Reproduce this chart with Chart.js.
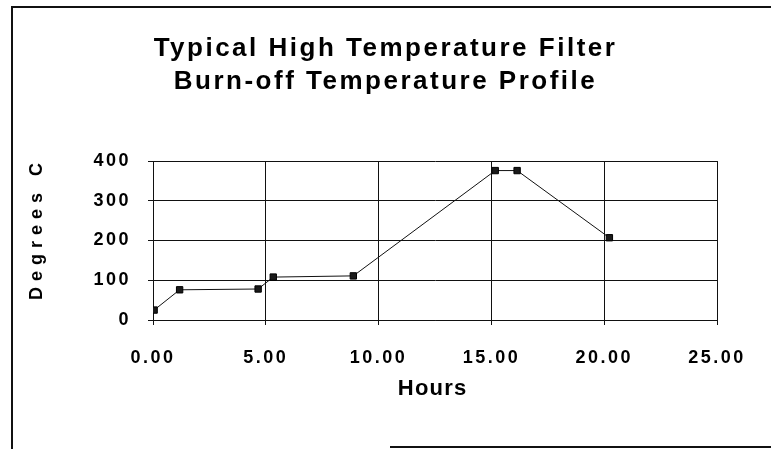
<!DOCTYPE html>
<html>
<head>
<meta charset="utf-8">
<script src="https://cdn.jsdelivr.net/npm/chart.js@4.4.1/dist/chart.umd.min.js"></script>
<style>
  html, body { margin: 0; padding: 0; background: #fff; }
  #wrap { width: 771px; height: 449px; }
</style>
</head>
<body>
<div id="wrap"><canvas id="chart"></canvas></div>
<script>
// Data
const hours = [0.05, 1.18, 4.66, 5.33, 8.88, 15.17, 16.14, 20.23];
const degrees = [25, 76, 78, 108, 111, 376, 376, 207];
const titleLines = ['Typical High Temperature Filter', 'Burn-off Temperature Profile'];
const xTicks = [0, 5, 10, 15, 20, 25];
const yTicks = [0, 100, 200, 300, 400];
const xTitle = 'Hours';
const yTitle = 'Degrees C';

const FONT = '"Liberation Sans", Arial, sans-serif';

// spaced out lettering like the scanned original
const spacing = {
    id: 'spacing',
    beforeLayout(chart) { chart.ctx.letterSpacing = '2.5px'; },
    beforeDraw(chart) { chart.ctx.letterSpacing = '2.5px'; }
};

// axis titles (each with its own letter spacing) and the page frame
const extras = {
    id: 'extras',
    afterDraw(chart) {
        const ctx = chart.ctx;
        const area = chart.chartArea;
        const midX = (area.left + area.right) / 2;
        const midY = (area.top + area.bottom) / 2;

        ctx.save();
        ctx.fillStyle = '#000';
        ctx.textAlign = 'center';
        ctx.textBaseline = 'middle';

        ctx.letterSpacing = '1.2px';
        ctx.font = 'bold 22px ' + FONT;
        ctx.fillText(xTitle, midX - 3 + 0.6, area.bottom + 69);

        ctx.letterSpacing = '6px';
        ctx.font = 'bold 18px ' + FONT;
        ctx.translate(37, midY - 9);
        ctx.rotate(-Math.PI / 2);
        ctx.fillText(yTitle, 3, 0);
        ctx.restore();

        ctx.save();
        ctx.strokeStyle = '#111';
        ctx.lineWidth = 2;
        ctx.beginPath();
        ctx.moveTo(12, 449);
        ctx.lineTo(12, 7);
        ctx.lineTo(771, 7);
        ctx.moveTo(390, 447);
        ctx.lineTo(771, 447);
        ctx.stroke();
        ctx.restore();
    }
};

const points = hours.map((h, i) => ({ x: h, y: degrees[i] }));

new Chart(document.getElementById('chart'), {
    type: 'line',
    data: {
        datasets: [{
            data: points,
            borderColor: '#111',
            borderWidth: 1,
            backgroundColor: '#1a1a1a',
            pointStyle: 'rect',
            pointRadius: 4.5,
            pointBorderColor: '#000',
            pointBorderWidth: 1,
            tension: 0
        }]
    },
    options: {
        responsive: true,
        maintainAspectRatio: false,
        animation: false,
        layout: { padding: { left: 0, right: 0, top: 32, bottom: 69 } },
        plugins: {
            legend: { display: false },
            tooltip: { enabled: false },
            title: {
                display: true,
                text: titleLines,
                color: '#000',
                font: { family: FONT, size: 26, weight: 'bold', lineHeight: 1.27 },
                padding: { top: 0, bottom: 63 }
            }
        },
        scales: {
            x: {
                type: 'linear',
                min: 0,
                max: 25,
                afterBuildTicks: s => { s.ticks = xTicks.map(v => ({ value: v })); },
                afterFit: s => { s.height = 60; s.paddingLeft = 0; s.paddingRight = 54; },
                ticks: {
                    color: '#000',
                    padding: 22,
                    font: { family: FONT, size: 18, weight: 'bold' },
                    maxRotation: 0,
                    callback: v => Number(v).toFixed(2)
                },
                grid: { color: '#111', lineWidth: 1, tickLength: 5 },
                border: { color: '#111', width: 1 }
            },
            y: {
                min: 0,
                max: 400,
                afterBuildTicks: s => { s.ticks = yTicks.map(v => ({ value: v })); },
                afterFit: s => { s.width = 153; s.paddingTop = 0; s.paddingBottom = 0; },
                ticks: {
                    color: '#000',
                    padding: 17,
                    font: { family: FONT, size: 18, weight: 'bold' }
                },
                grid: { color: '#111', lineWidth: 1, tickLength: 5 },
                border: { color: '#111', width: 1 }
            }
        }
    },
    plugins: [spacing, extras]
});
</script>
</body>
</html>
